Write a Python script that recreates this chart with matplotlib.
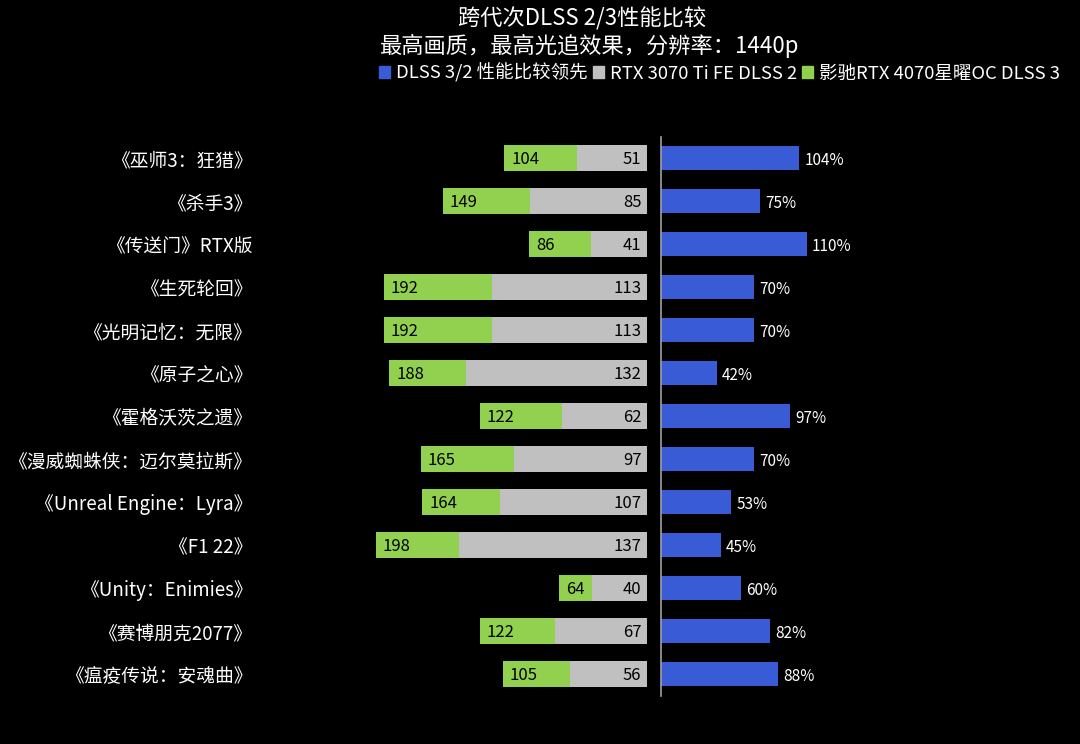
import matplotlib
matplotlib.use("Agg")
import matplotlib.pyplot as plt
from matplotlib.patches import Patch

plt.rcParams['font.family'] = ['Noto Sans CJK SC', 'DejaVu Sans']

games = ["《巫师3：狂猎》", "《杀手3》", "《传送门》RTX版", "《生死轮回》", "《光明记忆：无限》",
         "《原子之心》", "《霍格沃茨之遗》", "《漫威蜘蛛侠：迈尔莫拉斯》", "《Unreal Engine：Lyra》",
         "《F1 22》", "《Unity：Enimies》", "《赛博朋克2077》", "《瘟疫传说：安魂曲》"]
dlss3 = [104, 149, 86, 192, 192, 188, 122, 165, 164, 198, 64, 122, 105]
dlss2 = [51, 85, 41, 113, 113, 132, 62, 97, 107, 137, 40, 67, 56]
lead = [104, 75, 110, 70, 70, 42, 97, 70, 53, 45, 60, 82, 88]

title1 = "跨代次DLSS 2/3性能比较"
title2 = "最高画质，最高光追效果，分辨率：1440p"
legend_labels = ["DLSS 3/2 性能比较领先", "RTX 3070 Ti FE DLSS 2", "影驰RTX 4070星曜OC DLSS 3"]

green = "#92D050"
gray = "#C0C0C0"
blue = "#3A5BD6"

W, H = 1080, 744
fig = plt.figure(figsize=(W / 100, H / 100), dpi=100, facecolor="black")

top = 1 - 136.5 / H
bot = 1 - 695.5 / H
axL = fig.add_axes([255 / W, bot, (647 - 255) / W, top - bot], facecolor="black")
axR = fig.add_axes([661 / W, bot, (1060 - 661) / W, top - bot], facecolor="black")

y = list(range(len(games)))
diff = [a - b for a, b in zip(dlss3, dlss2)]
axL.barh(y, dlss2, height=0.6, color=gray)
axL.barh(y, diff, left=dlss2, height=0.6, color=green)
axL.set_xlim(286, 0)
axL.set_ylim(len(games) - 0.5, -0.5)
for yi, a, b in zip(y, dlss3, dlss2):
    axL.text(a - 5, yi + 0.03, str(a), ha="left", va="center", color="black", fontsize=12)
    axL.text(4, yi + 0.03, str(b), ha="right", va="center", color="black", fontsize=12)
axL.set_yticks(y)
axL.set_yticklabels(games, color="white", fontsize=13.5)
axL.tick_params(axis="y", length=0, pad=2)
axL.set_xticks([])
for s in axL.spines.values():
    s.set_visible(False)

axR.barh(y, lead, height=0.55, color=blue)
axR.set_xlim(0, 301)
axR.set_ylim(len(games) - 0.5, -0.5)
for yi, v in zip(y, lead):
    axR.text(v + 4, yi + 0.05, f"{v}%", ha="left", va="center", color="white", fontsize=11)
axR.set_xticks([])
axR.set_yticks([])
for k, s in axR.spines.items():
    s.set_visible(k == "left")
axR.spines["left"].set_color("#A0A0A0")
axR.spines["left"].set_linewidth(1.2)

fig.text(582 / W, 1 - 19 / H, title1, ha="center", va="center", color="white", fontsize=16)
fig.text(590 / W, 1 - 46 / H, title2, ha="center", va="center", color="white", fontsize=16)

handles = [Patch(color=c) for c in (blue, gray, green)]
leg = fig.legend(handles, legend_labels, loc="center right", bbox_to_anchor=(1060 / W, 1 - 73 / H),
                 ncol=3, frameon=False, fontsize=13.3, handlelength=0.6, handleheight=0.6,
                 handletextpad=0.3, columnspacing=0.3, borderaxespad=0, borderpad=0)
for t in leg.get_texts():
    t.set_color("white")

fig.savefig("out.png", dpi=100, facecolor="black")
